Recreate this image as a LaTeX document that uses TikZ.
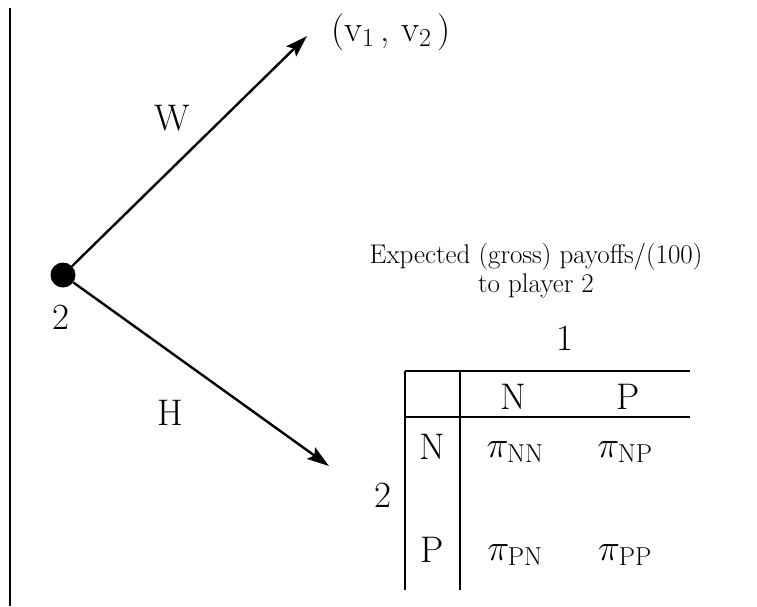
\RequirePackage{fix-cm}
\documentclass[tikz,border=0pt]{standalone}
\usepackage{fontspec}
\usepackage{tikz}
\usetikzlibrary{arrows.meta}

\begin{document}
\begin{tikzpicture}[x=1pt, y=-1pt,
  lbl/.style={font=\fontsize{37}{44}\selectfont, inner sep=0pt},
  note/.style={font=\fontsize{27}{29}\selectfont, inner sep=0pt,
               align=center},
  arr/.style={-{Stealth[length=22pt, width=14pt, inset=4pt]}, line width=2.4pt},
  rule/.style={line width=2.8pt}
]
\useasboundingbox (0,0) rectangle (757,606);

% ── Left border ──
\draw[rule] (10,8) -- (10,606);

% ── Decision node of player 2 ──
\node[circle, fill=black, minimum size=25pt, inner sep=0pt] (dec) at (63,275) {};
\node[lbl] (decl) at (61,317) {2};

% ── Branches W and H ──
\coordinate (wend) at (307,36);
\coordinate (hend) at (329,466);
\draw[arr] (dec) -- (wend);
\draw[arr] (dec) -- (hend);
\node[lbl] (wlab) at (172,118) {W};
\node[lbl] (hlab) at (170,413) {H};
\node[lbl, anchor=west] (vpay) at (331,32) {(v$_1$\,, v$_2$\,)};

% ── Payoff table heading ──
\node[note] (head) at (536,271) {Expected (gross) payoffs/(100)\\to player 2};
\node[lbl] (col) at (565,338) {1};
\node[lbl] (row) at (383,495) {2};

% ── Table rules ──
\draw[rule] (405,371) -- (690,371);
\draw[rule] (405,417) -- (690,417);
\draw[rule] (405,371) -- (405,590);
\draw[rule] (460,371) -- (460,590);

% ── Strategies ──
\node[lbl] (cn) at (513,397) {N};
\node[lbl] (cp) at (628,397) {P};
\node[lbl] (rn) at (432,447) {N};
\node[lbl] (rp) at (432,550) {P};

% ── Payoffs ──
\node[lbl] (nn) at (515,452) {$\pi_{\mathrm{NN}}$};
\node[lbl] (np) at (625,452) {$\pi_{\mathrm{NP}}$};
\node[lbl] (pn) at (515,555) {$\pi_{\mathrm{PN}}$};
\node[lbl] (pp) at (625,555) {$\pi_{\mathrm{PP}}$};

\end{tikzpicture}
\end{document}
